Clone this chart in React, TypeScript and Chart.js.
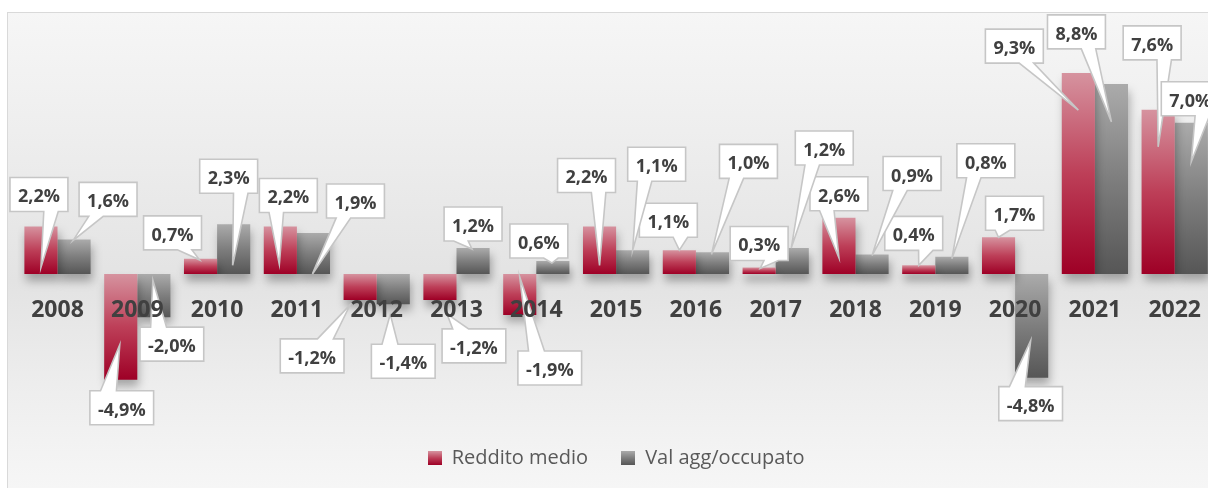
import React, { useEffect, useRef } from "react";
import { Chart, registerables } from "chart.js";

Chart.register(...registerables);

// ---- data ----
const years = ["2008", "2009", "2010", "2011", "2012", "2013", "2014", "2015", "2016", "2017", "2018", "2019", "2020", "2021", "2022"];
const redditoMedio = [2.2, -4.9, 0.7, 2.2, -1.2, -1.2, -1.9, 2.2, 1.1, 0.3, 2.6, 0.4, 1.7, 9.3, 7.6];
const valAggOccupato = [1.6, -2.0, 2.3, 1.9, -1.4, 1.2, 0.6, 1.1, 1.0, 1.2, 0.9, 0.8, -4.8, 8.8, 7.0];
const seriesNames = ["Reddito medio", "Val agg/occupato"];
const yMin = -6.53;
const yMax = 12;

// ---- callout layout: [tip dx, tip dy] from bar end, [box dx, box dy] of box centre from tip ----
const redCallouts = [
  [0, 41, -2, -73], [-1, -35, 2, 63], [-1, 1, -27, -27], [-1, 38, 9, -69],
  [-10, 5, -38, 51], [7, 14, 27, 32], [0, -38, 30, 91], [0, 39, -13, -90],
  [0, 0, -11, -30], [1, 1, -1, -25], [0, 40, 0, -64], [0, 0, -5, -32],
  [0, 0, 16, -24], [0, 37, -64, -64], [0, 37, -6, -104],
];
const grayCallouts = [
  [-1, 1, 35, -41], [-1, -37, 19, 64], [-1, 41, -4, -89], [-1, 41, 43, -73],
  [-3, 10, 13, 47], [-1, 1, 1, -25], [-1, 2, -13, -22], [0, 0, 24, -86],
  [-1, 2, 37, -93], [-1, 0, 33, -100], [0, 1, 40, -82], [0, 2, 34, -98],
  [-1, -37, 0, 63], [0, 38, -35, -90], [0, 39, -1, -63],
];

const RED_STOPS: [number, string][] = [[0, "#d6939f"], [0.5, "#bd3f58"], [1, "#9e0026"]];
const GRAY_STOPS: [number, string][] = [[0, "#ababab"], [0.5, "#7e7e7e"], [1, "#565656"]];

function fmt(v: number) {
  return v.toFixed(1).replace(".", ",") + "%";
}

function gradFill(stops: [number, string][], fallback: string) {
  return (ctx: any) => {
    const chart = ctx.chart;
    if (!chart.chartArea || ctx.type !== "data" || !chart.scales.y) return fallback;
    const ys = chart.scales.y;
    const p0 = ys.getPixelForValue(0);
    const p1 = ys.getPixelForValue(ctx.parsed.y);
    const top = Math.min(p0, p1);
    const bot = Math.max(p0, p1) + 0.01;
    const g = chart.ctx.createLinearGradient(0, top, 0, bot);
    stops.forEach(([o, c]) => g.addColorStop(o, c));
    return g;
  };
}

function swatch(stops: [number, string][]) {
  const c = document.createElement("canvas");
  c.width = 14;
  c.height = 14;
  const x = c.getContext("2d")!;
  const g = x.createLinearGradient(0, 0, 0, 14);
  stops.forEach(([o, col]) => g.addColorStop(o, col));
  x.fillStyle = g;
  x.fillRect(0, 0, 14, 14);
  return c;
}

function calloutPath(ctx: CanvasRenderingContext2D, x: number, y: number, w: number, h: number, tx: number, ty: number) {
  const dx = tx - (x + w / 2);
  const dy = ty - (y + h / 2);
  const inside = tx >= x && tx <= x + w && ty >= y && ty <= y + h;
  const dq = (dx * h) / w;
  const dz = Math.abs(dy) - Math.abs(dq);
  const x1 = x + (w * (dx > 0 ? 7 : 2)) / 12;
  const x2 = x + (w * (dx > 0 ? 10 : 5)) / 12;
  const y1 = y + (h * (dy > 0 ? 7 : 2)) / 12;
  const y2 = y + (h * (dy > 0 ? 10 : 5)) / 12;
  ctx.beginPath();
  ctx.moveTo(x, y);
  if (!inside && dz > 0 && dy < 0) {
    ctx.lineTo(x1, y);
    ctx.lineTo(tx, ty);
    ctx.lineTo(x2, y);
  }
  ctx.lineTo(x + w, y);
  if (!inside && dz <= 0 && dx > 0) {
    ctx.lineTo(x + w, y1);
    ctx.lineTo(tx, ty);
    ctx.lineTo(x + w, y2);
  }
  ctx.lineTo(x + w, y + h);
  if (!inside && dz > 0 && dy > 0) {
    ctx.lineTo(x2, y + h);
    ctx.lineTo(tx, ty);
    ctx.lineTo(x1, y + h);
  }
  ctx.lineTo(x, y + h);
  if (!inside && dz <= 0 && dx < 0) {
    ctx.lineTo(x, y2);
    ctx.lineTo(tx, ty);
    ctx.lineTo(x, y1);
  }
  ctx.closePath();
}

const shadowPlugin = {
  id: "barShadow",
  beforeDatasetDraw(chart: any) {
    const c = chart.ctx;
    c.save();
    c.shadowColor = "rgba(0,0,0,0.30)";
    c.shadowBlur = 9;
    c.shadowOffsetX = 2;
    c.shadowOffsetY = 7;
  },
  afterDatasetDraw(chart: any) {
    chart.ctx.restore();
  },
};

const labelsPlugin = {
  id: "xLabelsAndCallouts",
  afterDatasetsDraw(chart: any) {
    const c: CanvasRenderingContext2D = chart.ctx;
    const xs = chart.scales.x;
    const ys = chart.scales.y;
    const zero = ys.getPixelForValue(0);
    c.save();
    c.textBaseline = "alphabetic";
    c.textAlign = "center";
    // callouts
    const sets = [
      { values: redditoMedio, lay: redCallouts },
      { values: valAggOccupato, lay: grayCallouts },
    ];
    c.font = "bold 18px 'Open Sans'";
    sets.forEach((s, d) => {
      const meta = chart.getDatasetMeta(d);
      s.values.forEach((v, i) => {
        const el = meta.data[i];
        const [tdx, tdy, bdx, bdy] = s.lay[i];
        const tx = el.x + tdx;
        const ty = el.y + tdy;
        const txt = fmt(v);
        const w = c.measureText(txt).width + 16;
        const h = 34;
        const cx = tx + bdx;
        const cy = ty + bdy;
        calloutPath(c, cx - w / 2, cy - h / 2, w, h, tx, ty);
        c.fillStyle = "#ffffff";
        c.fill();
        c.lineWidth = 1.6;
        c.strokeStyle = "#c6c6c6";
        c.lineJoin = "miter";
        c.stroke();
        c.fillStyle = "#404040";
        c.fillText(txt, cx, cy + 8);
      });
    });
    // category labels near the zero line, drawn on top
    c.font = "bold 23px 'Open Sans'";
    c.fillStyle = "#404040";
    years.forEach((yr, i) => {
      c.fillText(yr, xs.getPixelForValue(i), zero + 42.7);
    });
    c.restore();
  },
};

export default function App() {
  const ref = useRef<HTMLCanvasElement | null>(null);
  useEffect(() => {
    if (!ref.current) return;
    const sw = [swatch(RED_STOPS), swatch(GRAY_STOPS)];
    const chart = new Chart(ref.current, {
      type: "bar",
      data: {
        labels: years,
        datasets: [
          { label: seriesNames[0], data: redditoMedio, backgroundColor: gradFill(RED_STOPS, "#bd3f58") as any, borderWidth: 0 },
          { label: seriesNames[1], data: valAggOccupato, backgroundColor: gradFill(GRAY_STOPS, "#7e7e7e") as any, borderWidth: 0 },
        ],
      },
      options: {
        responsive: false,
        animation: false,
        events: [],
        datasets: { bar: { categoryPercentage: 0.83, barPercentage: 1 } },
        layout: { padding: { left: 17.6, right: 10.4, top: 14.8, bottom: 10 } },
        scales: {
          x: { display: false },
          y: { display: false, min: yMin, max: yMax },
        },
        plugins: {
          tooltip: { enabled: false },
          title: { display: false },
          legend: {
            display: true,
            position: "bottom",
            labels: {
              usePointStyle: true,
              boxWidth: 14,
              boxHeight: 14,
              padding: 33,
              color: "#595959",
              font: { family: "'Open Sans'", size: 20 },
              generateLabels: () =>
                seriesNames.map((n, i) => ({
                  text: n,
                  pointStyle: sw[i],
                  fillStyle: i === 0 ? "#bd3f58" : "#7e7e7e",
                  strokeStyle: "rgba(0,0,0,0)",
                  lineWidth: 0,
                  hidden: false,
                  datasetIndex: i,
                  fontColor: "#595959",
                })) as any,
            },
          },
        },
      },
      plugins: [shadowPlugin, labelsPlugin],
    });
    return () => chart.destroy();
  }, []);

  return (
    <div style={{ position: "fixed", left: 0, top: 0, width: 1208, height: 488, overflow: "hidden", background: "#ffffff" }}>
      <div
        style={{
          position: "absolute",
          left: 7,
          top: 12,
          width: 1300,
          height: 490,
          boxSizing: "border-box",
          border: "1px solid #d9d9d9",
          background: "linear-gradient(to bottom, #f6f6f6 0%, #ececec 30%, #e3e3e3 55%, #eeeeee 78%, #f7f7f7 100%)",
        }}
      />
      <canvas ref={ref} width={1225} height={488} style={{ position: "absolute", left: 0, top: 0, width: 1225, height: 488 }} />
    </div>
  );
}
